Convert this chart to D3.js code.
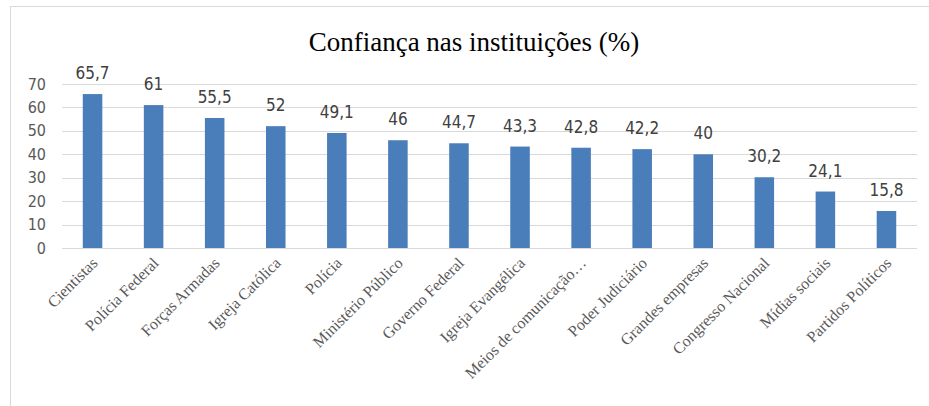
<!DOCTYPE html>
<html><head><meta charset="utf-8">
<script src="https://cdn.jsdelivr.net/npm/d3@7"></script>
<style>body{margin:0;background:#fff}svg{display:block}</style>
</head><body>
<script>
const categories = ["Cientistas","Polícia Federal","Forças Armadas","Igreja Católica","Polícia","Ministério Público","Governo Federal","Igreja Evangélica","Meios de comunicação…","Poder Judiciário","Grandes empresas","Congresso Nacional","Mídias sociais","Partidos Políticos"];
const values = [65.7,61,55.5,52,49.1,46,44.7,43.3,42.8,42.2,40,30.2,24.1,15.8];
const yTicks = [0,10,20,30,40,50,60,70];
const title = "Confiança nas instituições (%)";

const W = 929, H = 406;
const svg = d3.select("body").append("svg").attr("width", W).attr("height", H);
svg.append("rect").attr("x",10.5).attr("y",6.5).attr("width",W).attr("height",H).attr("fill","#fff").attr("stroke","#d9d9d9");

const x = d3.scaleBand().domain(categories).range([62,917]).paddingInner(0.68).paddingOuter(0.34);
const y = d3.scaleLinear().domain([0,70]).range([248,84]);

svg.append("text").attr("x",474).attr("y",51).attr("text-anchor","middle")
  .attr("font-family","Liberation Serif").attr("font-size",27).attr("fill","#000").text(title);

const grid = svg.append("g");
grid.selectAll("line").data(yTicks).join("line")
  .attr("x1",62).attr("x2",917).attr("y1",d=>Math.round(y(d))+0.5).attr("y2",d=>Math.round(y(d))+0.5)
  .attr("stroke","#d9d9d9");

const yAxis = svg.append("g").attr("transform","translate(62,0)")
  .call(d3.axisLeft(y).tickValues(yTicks).tickSize(0).tickPadding(16));
yAxis.select(".domain").remove();
yAxis.selectAll("text").attr("font-family","DejaVu Sans Condensed, DejaVu Sans").attr("font-stretch","condensed").attr("font-size",16).attr("fill","#595959");

svg.append("g").selectAll("rect").data(values).join("rect")
  .attr("x",(d,i)=>x(categories[i])).attr("width",x.bandwidth())
  .attr("y",d=>y(d)).attr("height",d=>y(0)-y(d)).attr("fill","#4A7EBB");

svg.append("g").selectAll("text").data(values).join("text")
  .attr("x",(d,i)=>x(categories[i])+x.bandwidth()/2).attr("y",d=>y(d)-15)
  .attr("text-anchor","middle").attr("font-family","DejaVu Sans Condensed, DejaVu Sans").attr("font-stretch","condensed").attr("font-size",17).attr("fill","#404040")
  .text(d=>String(d).replace(".",","));

const xAxis = svg.append("g").attr("transform","translate(0,248)")
  .call(d3.axisBottom(x).tickSize(0).tickPadding(0));
xAxis.select(".domain").remove();
xAxis.selectAll("text")
  .attr("font-family","Liberation Serif").attr("font-size",16).attr("fill","#595959")
  .attr("text-anchor","end").attr("dy",0)
  .attr("transform","translate(6,16) rotate(-45)");
</script>
</body></html>
